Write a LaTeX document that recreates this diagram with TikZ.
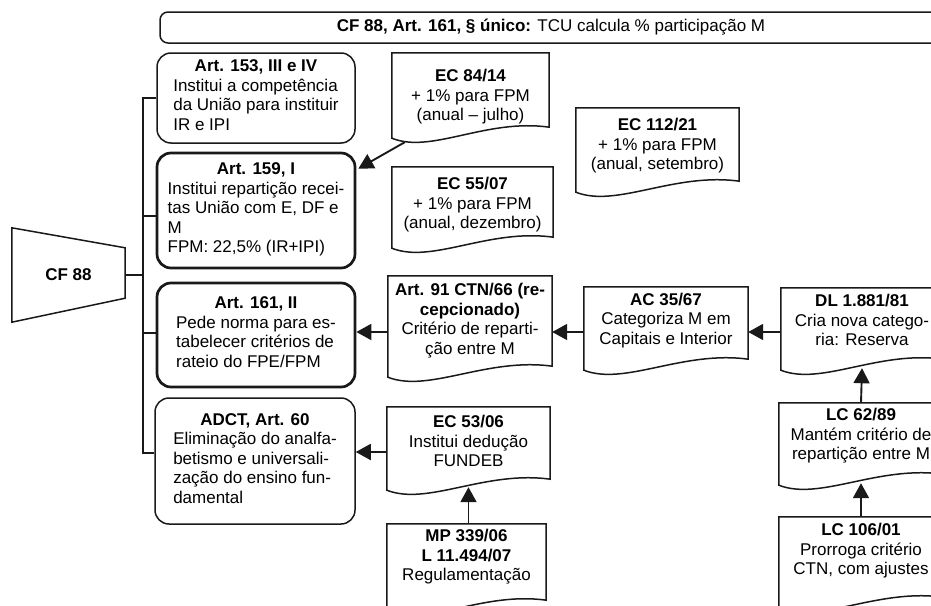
\documentclass[tikz,border=0pt]{standalone}
\usepackage{fontspec}
\setmainfont{Liberation Sans}
\usetikzlibrary{arrows.meta,calc}
\newcommand\docout[2]{%
  \draw[ln] (#1.north west) -- (#1.north east) -- ($(#1.south east)+(0,#2-11)$)
    .. controls ($(#1.south west)!0.6!(#1.south east)+(0,#2-20)$) and ($(#1.south west)!0.25!(#1.south east)+(0,#2+16)$) .. ($(#1.south west)+(0,#2)$) -- cycle;}
\begin{document}
\begin{tikzpicture}[x=1pt,y=-1pt,
  font=\fontsize{17}{19.5}\selectfont,
  ln/.style={line width=1.5pt, draw=black!90},
  rbox/.style={ln, draw, fill=white, rounded corners=14pt, minimum width=198pt, align=center, inner sep=0pt},
  heavy/.style={line width=2.7pt},
  doc/.style={inner sep=0pt, align=center},
  arr/.style={ln, line width=1.9pt, -{Triangle[length=15pt,width=16pt]}}]
\useasboundingbox (0,0) rectangle (931,605);
\clip (0,0) rectangle (931,605);

% banner
\node[ln, draw, rounded corners=8pt, minimum width=782pt, minimum height=31pt, inner sep=0pt] (ban) at (551,27.5)
  {\textbf{CF 88, Art. 161, § único:} TCU calcula \% participação M};

% CF 88 trapezoid
\node[minimum width=113pt, minimum height=94pt, inner sep=0pt] (cf) at (68.5,275) {\textbf{CF 88}};
\draw[ln] (cf.north west) -- ($(cf.north east)+(0,20)$) -- ($(cf.south east)+(0,-24)$) -- (cf.south west) -- cycle;

% left boxes
\node[rbox, minimum height=90pt] (a153) at (256,98)
  {\textbf{Art. 153, III e IV}\\\begin{tabular}[t]{@{}l@{}}Institui a competência\\da União para instituir\\IR e IPI\end{tabular}};
\node[rbox, heavy, minimum height=115pt] (a159) at (256,210.5)
  {\textbf{Art. 159, I}\\\begin{tabular}[t]{@{}l@{}}Institui repartição recei-\\tas União com E, DF e\\M\\FPM: 22,5\% (IR+IPI)\end{tabular}};
\node[rbox, heavy, minimum height=104pt] (a161) at (256,335)
  {\textbf{Art. 161, II}\\\begin{tabular}[t]{@{}l@{}}Pede norma para es-\\tabelecer critérios de\\rateio do FPE/FPM\end{tabular}};
\node[rbox, minimum width=200pt, minimum height=126pt] (adct) at (255,461)
  {\textbf{ADCT, Art. 60}\\\begin{tabular}[t]{@{}l@{}}Eliminação do analfa-\\betismo e universali-\\zação do ensino fun-\\damental\end{tabular}};

% trunk
\coordinate (tr) at (143,0);
\draw[ln] (cf.east) -- (cf.east -| tr);
\draw[ln] (a153.west) -- (a153.west -| tr) |- ($(adct.west)+(0,-8)$);
\draw[ln] ($(a159.west)+(0,5.5)$) -- ++(-14,0);
\draw[ln] ($(a161.west)+(0,-2)$) -- ++(-14,0);

% document nodes
\node[doc, minimum width=157pt, minimum height=88pt] (ec84) at (470.5,97)
  {\textbf{EC 84/14}\\+ 1\% para FPM\\(anual -- julho)};
\node[doc, minimum width=161pt, minimum height=76pt] (ec55) at (472.5,205)
  {\textbf{EC 55/07}\\+ 1\% para FPM\\(anual, dezembro)};
\node[doc, minimum width=163pt, minimum height=76pt] (ec112) at (657.5,146)
  {\textbf{EC 112/21}\\+ 1\% para FPM\\(anual, setembro)};
\node[doc, minimum width=164pt, minimum height=89pt] (art91) at (470,320.5)
  {\textbf{Art. 91 CTN/66 (re-}\\\textbf{cepcionado)}\\Critério de reparti-\\ção entre M};
\node[doc, minimum width=164pt, minimum height=67pt] (ac) at (666,320.5)
  {\textbf{AC 35/67}\\Categoriza M em\\Capitais e Interior};
\node[doc, minimum width=162pt, minimum height=64pt] (dl) at (862,320)
  {\textbf{DL 1.881/81}\\Cria nova catego-\\ria: Reserva};
\node[doc, minimum width=163pt, minimum height=68pt] (ec53) at (468.5,441)
  {\textbf{EC 53/06}\\Institui dedução\\FUNDEB};
\node[doc, minimum width=159pt, minimum height=66pt] (mp) at (466.5,557)
  {\textbf{MP 339/06}\\\textbf{L 11.494/07}\\Regulamentação};
\node[doc, minimum width=164pt, minimum height=66pt] (lc62) at (861,436)
  {\textbf{LC 62/89}\\Mantém critério de\\repartição entre M};
\node[doc, minimum width=164pt, minimum height=68pt] (lc106) at (861,551)
  {\textbf{LC 106/01}\\Prorroga critério\\CTN, com ajustes};

\docout{ec84}{-3}
\docout{ec55}{5}
\docout{ec112}{8}
\docout{art91}{12}
\docout{ac}{16}
\docout{dl}{18}
\docout{ec53}{15}
\docout{mp}{21}
\docout{lc62}{16}
\docout{lc106}{23}

% connectors
\coordinate (r1) at (0,332);
\coordinate (r2) at (0,452);
\draw[arr] (dl.west |- r1) -- (ac.east |- r1);
\draw[arr] (ac.west |- r1) -- (art91.east |- r1);
\draw[arr] (art91.west |- r1) -- (a161.east |- r1);
\draw[arr] (ec53.west |- r2) -- (adct.east |- r2);
\draw[arr] (mp.north -| ec53.south) -- ($(ec53.south)+(0,12)$);
\draw[arr] (lc62.north) -- ($(dl.south)+(0,16)$);
\draw[arr] (lc106.north) -- ($(lc62.south)+(0,14)$);
\draw[arr] ($(ec84.south west)+(13,1)$) -- ($(a159.north east)+(2,17)$);
\end{tikzpicture}
\end{document}
